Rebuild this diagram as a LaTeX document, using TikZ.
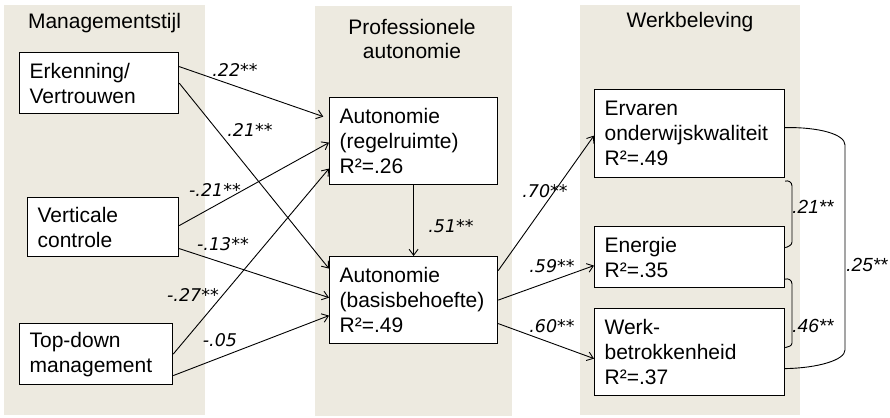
\documentclass[tikz,border=0pt]{standalone}
\usepackage{fontspec}
\setmainfont{Liberation Sans}
\newfontfamily\lblfont{DejaVu Sans}
\usetikzlibrary{arrows.meta}
\definecolor{panel}{RGB}{237,234,224}
\begin{document}
\begin{tikzpicture}[x=1pt,y=-1pt,
  box/.style={draw, line width=1.2pt, fill=white, anchor=north west, inner xsep=10pt, inner ysep=0pt, align=left, font=\fontsize{21}{25}\selectfont},
  ttl/.style={align=center, inner sep=0pt, font=\fontsize{21}{24}\selectfont},
  lab/.style={font=\lblfont\itshape\fontsize{17.5}{21}\selectfont, inner sep=0pt},
  rlab/.style={font=\itshape\fontsize{19}{23}\selectfont, inner sep=0pt},
  arr/.style={line width=0.9pt, -{Straight Barb[length=6pt,width=9pt]}},
  brk/.style={line width=0.9pt}]
\useasboundingbox (0,0) rectangle (890,417);
% panels
\fill[panel] (4,5) rectangle (205,415);
\fill[panel] (315,6) rectangle (512,416);
\fill[panel] (580,5) rectangle (800,415);
% titles
\node[ttl, anchor=base] (t1) at (104.5,29) {Managementstijl};
\node[ttl, anchor=north] (t2) at (412,19) {Professionele\\autonomie};
\node[ttl, anchor=base] (t3) at (690,28) {Werkbeleving};
% boxes
\node[box, text width=139pt, minimum height=61pt] (erk) at (19,52) {Erkenning/\\Vertrouwen};
\node[box, text width=131pt, minimum height=59pt] (ver) at (27,197) {Verticale\\controle};
\node[box, text width=133pt, minimum height=61pt] (top) at (19,323) {Top-down\\management};
\node[box, text width=148pt, minimum height=87pt] (reg) at (329,97) {Autonomie\\(regelruimte)\\R²=.26};
\node[box, text width=148pt, minimum height=87pt] (bas) at (329,256) {Autonomie\\(basisbehoefte)\\R²=.49};
\node[box, text width=170pt, minimum height=88pt] (erv) at (594,89) {Ervaren\\onderwijskwaliteit\\R²=.49};
\node[box, text width=170pt, minimum height=61pt] (ene) at (594,226) {Energie\\R²=.35};
\node[box, text width=170pt, minimum height=87pt] (wer) at (594,308) {Werk-\\betrokkenheid\\R²=.37};
% arrows
\draw[arr, shorten >=6pt] ([yshift=16.5pt]erk.east) -- ([yshift=22.5pt]reg.west);
\draw[arr] (erk.east) -- ([yshift=31.5pt]bas.west);
\draw[arr] ([yshift=1.5pt]ver.east) -- ([yshift=-1.5pt]reg.west);
\draw[arr] ([yshift=-21.5pt]ver.east) -- ([yshift=2.5pt]bas.west);
\draw[arr] (top.east) -- ([yshift=-27.5pt]reg.west);
\draw[arr] ([yshift=-21.5pt]top.east) -- ([yshift=-15.5pt]bas.west);
\draw[arr] (reg.south) -- (bas.north);
\draw[arr] ([yshift=29.5pt]bas.east) -- ([yshift=-2pt]erv.west);
\draw[arr] (bas.east) -- ([yshift=-8.5pt]ene.west);
\draw[arr] ([yshift=-23.5pt]bas.east) -- ([yshift=-6.5pt]wer.west);
% correlation brackets
\draw[brk] ([yshift=-3pt]erv.south east) .. controls (788,180) and (792,182) .. (792,186) -- (792,242) .. controls (792,245) and (788,247) .. ([yshift=9.5pt]ene.east);
\draw[brk] ([yshift=9pt]ene.south east) .. controls (788,278) and (792,280) .. (792,284) -- (792,343) .. controls (792,346) and (788,347) .. ([yshift=4.5pt]wer.east);
\draw[brk] ([yshift=6pt]erv.east) .. controls (818,127) and (845,134) .. (845,145) -- (845,350) .. controls (845,360) and (818,368) .. ([yshift=-16.5pt]wer.east);
% path labels
\node[lab] (l1) at (235,70) {.22**};
\node[lab] (l2) at (250,130) {.21**};
\node[lab] (l3) at (215,190) {-.21**};
\node[lab] (l4) at (223,244) {-.13**};
\node[lab] (l5) at (193,295) {-.27**};
\node[lab] (l6) at (220,340) {-.05};
\node[lab] (l7) at (451,226) {.51**};
\node[lab] (l8) at (545,191) {.70**};
\node[lab] (l9) at (552,266) {.59**};
\node[lab] (l10) at (552,326) {.60**};
\node[rlab] (r1) at (813,207) {.21**};
\node[rlab] (r2) at (813,326) {.46**};
\node[rlab] (r3) at (867,265) {.25**};
\end{tikzpicture}
\end{document}
